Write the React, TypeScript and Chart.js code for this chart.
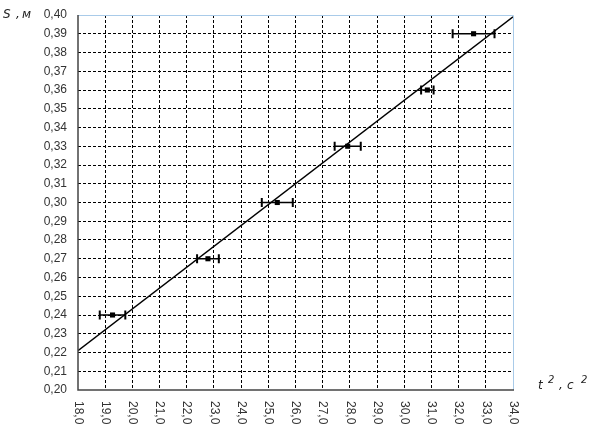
import React, { useEffect, useRef } from "react";
import { Chart, registerables } from "chart.js";

Chart.register(...registerables);

// Measured data: path S (m) vs squared time t^2 (s^2) with horizontal error
const sValues = [0.24, 0.27, 0.3, 0.33, 0.36, 0.39];
const tSquared = [19.27, 22.78, 25.33, 27.92, 30.85, 32.55];
const tSquaredErr = [0.47, 0.4, 0.57, 0.48, 0.23, 0.77];

// Fitted straight line (end points)
const fitT = [18, 34];
const fitS = [0.221, 0.399];

// Axis ranges / steps
const xMin = 18;
const xMax = 34;
const xStep = 1;
const yMin = 0.2;
const yMax = 0.4;
const yStep = 0.01;

const yTitle = "S,м";
const fmtComma = (v: number, d: number) => v.toFixed(d).replace(".", ",");

export default function App() {
  const ref = useRef<HTMLCanvasElement | null>(null);

  useEffect(() => {
    if (!ref.current) return;
    const tickFont = "12px 'Liberation Sans', Arial, sans-serif";
    const titleFont = "italic 12px 'DejaVu Sans', sans-serif";

    const decor = {
      id: "decor",
      afterDatasetsDraw(chart: any) {
        const ctx = chart.ctx;
        const xs = chart.scales.x;
        const ys = chart.scales.y;
        ctx.save();
        ctx.strokeStyle = "#000";
        for (let i = 0; i < sValues.length; i++) {
          const y = ys.getPixelForValue(sValues[i]);
          const x1 = xs.getPixelForValue(tSquared[i] - tSquaredErr[i]);
          const x2 = xs.getPixelForValue(tSquared[i] + tSquaredErr[i]);
          ctx.lineWidth = 1.5;
          ctx.beginPath();
          ctx.moveTo(x1, y);
          ctx.lineTo(x2, y);
          ctx.stroke();
          ctx.lineWidth = 2;
          ctx.beginPath();
          ctx.moveTo(x1, y - 4.5);
          ctx.lineTo(x1, y + 4.5);
          ctx.moveTo(x2, y - 4.5);
          ctx.lineTo(x2, y + 4.5);
          ctx.stroke();
        }
        ctx.restore();
      },
      afterDraw(chart: any) {
        const ctx = chart.ctx;
        const a = chart.chartArea;
        const xs = chart.scales.x;
        ctx.save();
        // light blue top / right border
        ctx.strokeStyle = "#a9cbe9";
        ctx.lineWidth = 1;
        ctx.beginPath();
        ctx.moveTo(a.left, a.top + 0.5);
        ctx.lineTo(a.right + 0.5, a.top + 0.5);
        ctx.lineTo(a.right + 0.5, a.bottom);
        ctx.stroke();
        // dark left / bottom axes
        ctx.strokeStyle = "#444";
        ctx.lineWidth = 1.5;
        ctx.beginPath();
        ctx.moveTo(a.left, a.top);
        ctx.lineTo(a.left, a.bottom);
        ctx.lineTo(a.right + 1, a.bottom);
        ctx.stroke();

        // rotated x tick labels (reading top to bottom)
        ctx.fillStyle = "#333";
        ctx.font = tickFont;
        ctx.textAlign = "left";
        ctx.textBaseline = "middle";
        for (const t of xs.ticks) {
          const px = xs.getPixelForValue(t.value);
          ctx.save();
          ctx.translate(px, a.bottom + 11);
          ctx.rotate(Math.PI / 2);
          ctx.fillText(fmtComma(t.value, 1), 0, 0);
          ctx.restore();
        }

        // axis titles
        ctx.fillStyle = "#222";
        ctx.font = titleFont;
        ctx.textBaseline = "alphabetic";
        ctx.textAlign = "left";
        const yParts = yTitle.split("");
        const yPos = [3, 16, 22];
        yParts.forEach((ch, i) => ctx.fillText(ch, yPos[i], 18));

        const base = a.bottom - 1;
        ctx.fillText("t", 538, base);
        ctx.fillText(",", 559, base);
        ctx.fillText("c", 567, base);
        ctx.font = "italic 10px 'DejaVu Sans', sans-serif";
        ctx.fillText("2", 548, base - 6);
        ctx.fillText("2", 581, base - 6);
        ctx.restore();
      },
    };

    const gridColor = (edgeA: number, edgeB: number) => (c: any) => {
      const v = c.tick ? c.tick.value : NaN;
      if (Math.abs(v - edgeA) < 1e-6 || Math.abs(v - edgeB) < 1e-6) return "rgba(0,0,0,0)";
      return "#000";
    };

    const chart = new Chart(ref.current, {
      type: "scatter",
      data: {
        datasets: [
          {
            type: "line",
            data: fitT.map((t, i) => ({ x: t, y: fitS[i] })),
            borderColor: "#000",
            borderWidth: 1.3,
            pointRadius: 0,
            fill: false,
          } as any,
          {
            data: tSquared.map((t, i) => ({ x: t, y: sValues[i] })),
            pointStyle: "rect",
            pointRadius: 3.6,
            backgroundColor: "#000",
            borderColor: "#000",
            borderWidth: 0,
          },
        ],
      },
      options: {
        animation: false,
        responsive: false,
        devicePixelRatio: 1,
        layout: { padding: { left: 0, right: 92, top: 15, bottom: 0 } },
        plugins: { legend: { display: false }, tooltip: { enabled: false } },
        scales: {
          x: {
            type: "linear",
            min: xMin,
            max: xMax,
            ticks: { stepSize: xStep, display: false },
            grid: { color: gridColor(xMin, xMax), drawTicks: false, lineWidth: 1 },
            border: { display: false, dash: [3, 2] },
            afterFit: (s: any) => {
              s.height = 40;
              s.paddingLeft = 0;
              s.paddingRight = 0;
            },
          },
          y: {
            min: yMin,
            max: yMax,
            ticks: {
              stepSize: yStep,
              padding: 11,
              color: "#333",
              font: { family: "'Liberation Sans', Arial, sans-serif", size: 12 },
              callback: (v: any) => fmtComma(Number(v), 2),
            },
            grid: { color: gridColor(yMin, yMax), drawTicks: false, lineWidth: 1 },
            border: { display: false, dash: [3, 2] },
            afterFit: (s: any) => {
              s.width = 78;
              s.paddingTop = 0;
              s.paddingBottom = 0;
            },
          },
        },
      },
      plugins: [decor],
    });
    return () => chart.destroy();
  }, []);

  return (
    <div style={{ position: "fixed", left: 0, top: 0, width: 605, height: 430, background: "#fff" }}>
      <canvas ref={ref} width={605} height={430} style={{ display: "block" }} />
    </div>
  );
}
